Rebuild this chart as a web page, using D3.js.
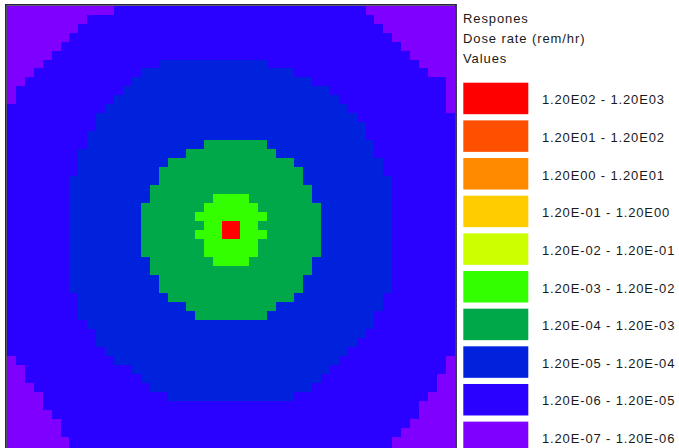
<!DOCTYPE html>
<html>
<head>
<meta charset="utf-8">
<script src="https://cdn.jsdelivr.net/npm/d3@7/dist/d3.min.js"></script>
<style>
  html, body { margin: 0; padding: 0; background: #ffffff; }
  svg { display: block; }
  text { font-family: Arial, "Liberation Sans", sans-serif; fill: #1a1a1a; }
</style>
</head>
<body>
<svg id="chart" width="679" height="448"></svg>
<script>
// Legend classes, highest dose rate first
const legendLabels = [
  "1.20E02 - 1.20E03", "1.20E01 - 1.20E02", "1.20E00 - 1.20E01",
  "1.20E-01 - 1.20E00", "1.20E-02 - 1.20E-01", "1.20E-03 - 1.20E-02",
  "1.20E-04 - 1.20E-03", "1.20E-05 - 1.20E-04", "1.20E-06 - 1.20E-05",
  "1.20E-07 - 1.20E-06"
];
const legendColors = [
  "#ff0000", "#ff5000", "#ff8a00", "#ffcc00", "#ccff00",
  "#33ff00", "#00a84a", "#0022dd", "#2a00ff", "#8000ff"
];
const titleLines = ["Respones", "Dose rate (rem/hr)", "Values"];

// Grid of 50 x 50 cells; every class is stored as the [first, last] column
// it covers on each row, starting at the given row.
const gridSize = 50;

// 1.20E-06 and above (the rest of the grid is 1.20E-07 - 1.20E-06)
const blueRow0 = 0;
const blueSpans = [
  [12,39],[9,40],[8,41],[7,42],[6,43],[5,44],[4,45],[3,46],[2,48],[1,48],
  [1,48],[0,48],[0,49],[0,49],[0,49],[0,49],[0,49],[0,49],[0,49],[0,49],
  [0,49],[0,49],[0,49],[0,49],[0,49],[0,49],[0,49],[0,49],[0,49],[0,49],
  [0,49],[0,49],[0,49],[0,49],[0,49],[0,49],[0,49],[0,49],[0,49],[1,48],
  [2,48],[2,47],[3,47],[4,46],[4,45],[5,45],[6,44],[6,43],[7,42],[7,42]
];
// 1.20E-05 and above
const darkBlueRow0 = 6;
const darkBlueSpans = [
  [17,28],[15,31],[14,33],[13,35],[12,36],[11,37],[10,38],[10,39],[9,39],[9,40],
  [8,40],[8,41],[8,41],[7,42],[7,42],[7,42],[7,42],[7,42],[7,42],[7,42],
  [7,42],[7,42],[7,42],[7,42],[7,42],[7,42],[8,41],[8,41],[8,40],[9,40],
  [10,39],[10,38],[11,37],[12,36],[14,35],[15,34],[16,33],[18,31]
];
// 1.20E-04 and above
const greenRow0 = 15;
const greenSpans = [
  [22,28],[20,29],[18,31],[17,32],[17,32],[16,33],[16,33],[15,34],[15,34],[15,34],
  [15,34],[15,34],[15,34],[16,33],[16,33],[17,32],[17,32],[18,31],[20,29],[21,28]
];
// 1.20E-03 and above
const limeRow0 = 21;
const limeSpans = [[23,26],[22,27],[21,28],[22,27],[21,28],[22,27],[22,27],[23,26]];
// 1.20E02 and above
const redRow0 = 24;
const redSpans = [[24,25],[24,25]];

const svg = d3.select("#chart");

const cols = d3.scaleBand().domain(d3.range(gridSize)).range([6.7, 455.2]);
const rows = d3.scaleBand().domain(d3.range(gridSize)).range([5.7, 454.2]);

const map = svg.append("g").attr("shape-rendering", "crispEdges");

// lowest class fills the whole grid
map.append("rect")
  .attr("x", cols(0)).attr("y", rows(0))
  .attr("width", cols.range()[1] - cols(0))
  .attr("height", rows.range()[1] - rows(0))
  .attr("fill", legendColors[9]);

const layers = [
  { row0: blueRow0, spans: blueSpans, color: legendColors[8] },
  { row0: darkBlueRow0, spans: darkBlueSpans, color: legendColors[7] },
  { row0: greenRow0, spans: greenSpans, color: legendColors[6] },
  { row0: limeRow0, spans: limeSpans, color: legendColors[5] },
  { row0: redRow0, spans: redSpans, color: legendColors[0] }
];

layers.forEach(layer => {
  map.append("g").selectAll("rect")
    .data(layer.spans)
    .join("rect")
    .attr("x", d => cols(d[0]))
    .attr("y", (d, i) => rows(layer.row0 + i))
    .attr("width", d => cols(d[1]) + cols.bandwidth() - cols(d[0]))
    .attr("height", rows.bandwidth() + 0.3)
    .attr("fill", layer.color);
});

// frame around the map
svg.append("path")
  .attr("d", `M${cols(0) - 0.8},${rows.range()[1]} V${rows(0) - 0.8} H${cols.range()[1] + 0.8} V${rows.range()[1]}`)
  .attr("fill", "none")
  .attr("stroke", "#2b2540")
  .attr("stroke-width", 1.8);

// legend
const legend = svg.append("g");
legend.selectAll("text.title")
  .data(titleLines)
  .join("text")
  .attr("class", "title")
  .attr("x", 463)
  .attr("y", (d, i) => 22.5 + i * 20.3)
  .style("font-size", "13px")
  .style("letter-spacing", "0.9px")
  .text(d => d);

const swatchY = d3.scaleLinear().domain([0, 1]).range([82.7, 120.36]);
const items = legend.selectAll("g.item")
  .data(legendLabels)
  .join("g")
  .attr("class", "item")
  .attr("transform", (d, i) => `translate(0,${swatchY(i)})`);
items.append("rect")
  .attr("x", 463.3).attr("y", 0)
  .attr("width", 65).attr("height", 31.5)
  .attr("fill", (d, i) => legendColors[i]);
items.append("text")
  .attr("x", 542)
  .attr("y", 21.5)
  .style("font-size", "13px")
  .style("letter-spacing", "0.85px")
  .text(d => d);
</script>
</body>
</html>
